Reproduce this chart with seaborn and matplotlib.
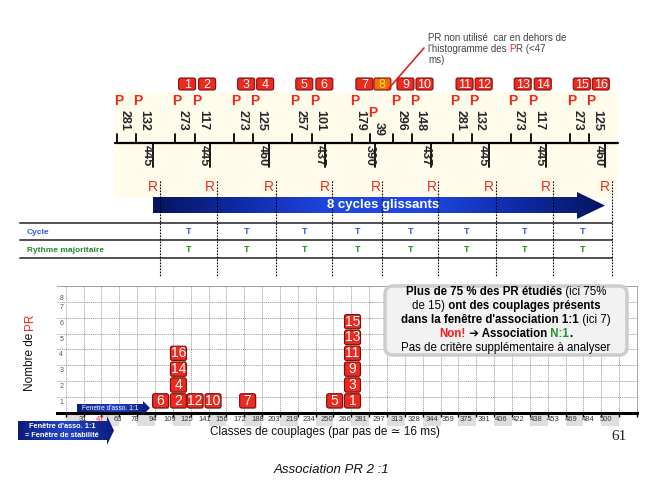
import numpy as np
import matplotlib
matplotlib.use("Agg")
import matplotlib.pyplot as plt
import matplotlib.patches as mpatches
from matplotlib.colors import LinearSegmentedColormap
from matplotlib.offsetbox import TextArea, HPacker, VPacker, AnnotationBbox
import seaborn as sns

sns.set_theme(style="white")
plt.rcParams["font.family"] = ["Liberation Sans", "DejaVu Sans"]

# ---- timeline data (ms) ----
rr_ms = [445, 445, 460, 437, 390, 437, 445, 445, 460]
pr_first = [281, 273, 273, 257, 179, 296, 281, 273, 273]
pr_second = [132, 117, 125, 101, 39, 148, 132, 117, 125]
pr_min_ms = 47
table_rows = ["Cycle", "Rythme majoritaire"]
table_values = ["T", "T", "T", "T", "T", "T", "T", "T"]

# ---- histogram data ----
class_ms = [101, 117, 132, 148, 179, 257, 273]
class_prs = [[6], [2, 4, 14, 16], [12], [10], [7], [5], [1, 3, 9, 11, 13, 15]]
class_labels = ["31", "47", "63", "78", "94", "109", "125", "141", "156", "172",
                "188", "203", "219", "234", "250", "266", "281", "297", "313",
                "328", "344", "359", "375", "391", "406", "422", "438", "453",
                "469", "484", "500"]
y_labels = ["1", "2", "3", "4", "5", "6", "7", "8"]

RED = "#f0281c"
BOX_RED = "#ec2a1d"
BOX_EDGE = "#7c1010"

fig = plt.figure(figsize=(6.64, 4.93), dpi=100)
fig.patch.set_facecolor("white")


def px_axes(label):
    a = fig.add_axes([0, 0, 1, 1], label=label)
    a.set_facecolor("none")
    a.axis("off")
    return a


bg = px_axes("bg")
tl = px_axes("timeline")

# timeline scale: first R at px 153, 0.1284 px per ms
K = 0.1284


def px2t(px):
    return (px - 153) / K


def dpx(px):
    return px / K


def gradient_poly(ax, verts, colors, z):
    poly = mpatches.Polygon(verts, closed=True, fc="none", ec="none")
    ax.add_patch(poly)
    xs = [v[0] for v in verts]
    ys = [v[1] for v in verts]
    cmap = LinearSegmentedColormap.from_list("g", colors)
    grad = np.linspace(0, 1, 256).reshape(1, -1)
    im = ax.imshow(grad, cmap=cmap, aspect="auto", zorder=z,
                   extent=(min(xs), max(xs), max(ys), min(ys)))
    im.set_clip_path(poly)


# ---------- background (pixel coords) ----------
bg.add_patch(mpatches.Rectangle((115, 92), 503, 106, fc="#fffcec", ec="none", zorder=0))
gradient_poly(bg, [(153, 197), (577, 197), (577, 192), (605, 205.5), (577, 219),
                   (577, 213), (153, 213)],
              ["#06145e", "#0f2ca8", "#1f48e2", "#1f48e2", "#0f2ca8", "#06145e"], 3)

for yy in [223, 240, 258]:
    bg.plot([20, 612], [yy, yy], color="#505050", lw=1.4, zorder=2)
bg.text(27, 232, table_rows[0], color="#2f55e0", fontsize=6, fontweight="bold", va="center")
bg.text(27, 250, table_rows[1], color="#1f8a2a", fontsize=6, fontweight="bold", va="center")

# callout text
bg.text(428, 38, "PR non utilisé  car en dehors de", fontsize=7, color="#444444", va="center")
line2 = HPacker(children=[TextArea("l'histogramme des ", textprops=dict(fontsize=7, color="#444444")),
                          TextArea("P", textprops=dict(fontsize=7, color=RED)),
                          TextArea("R (<47", textprops=dict(fontsize=7, color="#444444"))],
                align="baseline", pad=0, sep=0)
bg.add_artist(AnnotationBbox(line2, (428, 49), box_alignment=(0, 0.5), frameon=False, pad=0))
bg.text(428, 60, "ms)", fontsize=7, color="#444444", va="center")

# axis titles / footer
bg.text(30, 333, "Nombre de", rotation=90, fontsize=8.5, ha="center", va="top", color="#111111")
bg.text(30, 330, "PR", rotation=90, fontsize=8.5, ha="center", va="bottom", color=RED)
bg.text(325, 432, "Classes de couplages (par pas de ≃ 16 ms)", fontsize=8.5,
        ha="center", va="center", color="#111111")
bg.text(619, 437, "61", fontsize=11, family=["Liberation Serif", "DejaVu Serif"],
        ha="center", va="center", color="#222222")
bg.text(331, 470, "Association PR 2 :1", fontsize=9.5, fontstyle="italic",
        ha="center", va="center", color="#111111")

bg.set_xlim(0, 664)
bg.set_ylim(493, 0)

# ---------- timeline (x in ms, y in px) ----------
r_t = np.cumsum([0] + rr_ms[1:])
tl.plot([px2t(115), px2t(618)], [143, 143], color="black", lw=1.6, zorder=3)
box_w, box_h = dpx(17), 12
pr_no = 1
for i, t in enumerate(r_t):
    tl.plot([t, t], [143, 167], color="black", lw=1.3, zorder=3)
    tl.text(t - dpx(6), 145, str(rr_ms[i]), rotation=270, fontsize=9, fontweight="bold",
            ha="center", va="top", zorder=4)
    tl.text(t, 187, "R", color=RED, fontsize=10, ha="center", va="center", zorder=4)
    tl.plot([t + dpx(7), t + dpx(7)], [181, 276], color="black", lw=0.8,
            linestyle=(0, (1.5, 1.2)), zorder=5)
    for pr in (pr_first[i], pr_second[i]):
        p = t - pr
        low = 12 if pr < pr_min_ms else 0
        tl.plot([p, p], [134, 143], color="black", lw=1.3, zorder=3)
        tl.text(p + dpx(2), 101 + low, "P", color=RED, fontsize=10, fontweight="bold",
                ha="center", va="center", zorder=4)
        tl.text(p + dpx(8), 110 + low, str(pr), rotation=270, fontsize=9, fontweight="bold",
                ha="center", va="top", zorder=4)
        if i > 0:
            bx = p + dpx(12)
            excluded = pr < pr_min_ms
            tl.add_patch(mpatches.FancyBboxPatch(
                (bx - box_w / 2, 84 - box_h / 2), box_w, box_h,
                boxstyle="round,pad=0,rounding_size=%f" % dpx(2), mutation_aspect=K,
                fc="#f56a10" if excluded else BOX_RED, ec=BOX_EDGE, lw=0.8, zorder=4))
            tl.text(bx, 84.5, str(pr_no), color="#fff200" if excluded else "white",
                    fontsize=9, ha="center", va="center", zorder=5)
            if excluded:
                tl.plot([bx + dpx(5), px2t(424)], [90, 48], color="#e02020", lw=1.2, zorder=5)
            pr_no += 1

for i in range(len(r_t) - 1):
    mid = (r_t[i] + r_t[i + 1]) / 2 + dpx(7)
    tl.text(mid, 232, table_values[i], color="#2f55e0", fontsize=6.5, fontweight="bold",
            ha="center", va="center")
    tl.text(mid, 250, table_values[i], color="#1f8a2a", fontsize=6.5, fontweight="bold",
            ha="center", va="center")

tl.text(px2t(383), 205, "8 cycles glissants", color="white", fontsize=9.5,
        fontweight="bold", ha="center", va="center", zorder=7)

tl.set_xlim(px2t(0), px2t(664))
tl.set_ylim(493, 0)

# ---------- histogram ----------
hx = fig.add_axes([57 / 664, (493 - 412.7) / 493, 580 / 664, 126.7 / 493], label="hist")
hx.set_facecolor("none")
hx.set_xlim(8.2, 528)
hx.set_ylim(0, 8)
hx.set_xticks(np.arange(16, 529, 16))
hx.set_xticklabels([])
hx.set_yticks(np.arange(0, 9, 1))
hx.set_yticklabels([])
hx.grid(True, color="#9a9a9a", lw=0.6, linestyle=(0, (1.5, 1)))
hx.tick_params(axis="x", which="major", direction="out", length=3, width=1,
               color="black", bottom=True)
hx.tick_params(axis="y", length=0)
sns.despine(ax=hx, left=True, top=False, right=False)
hx.spines["bottom"].set_linewidth(2.2)
hx.spines["bottom"].set_color("black")
for s in ("top", "right"):
    hx.spines[s].set_color("#9a9a9a")
    hx.spines[s].set_linewidth(0.6)

minor_pos = [int(v) for v in class_labels]
hx.set_xticks(minor_pos, class_labels, minor=True)
hx.tick_params(axis="x", which="minor", length=0, pad=2.5, labelsize=5.5, labelcolor="#333333")
for t in hx.get_xticklabels(minor=True):
    if t.get_text() == str(pr_min_ms):
        t.set_color(RED)
for n in range(1, 33, 2):
    hx.add_patch(mpatches.Rectangle((16 * n, -0.105), 16, 0.095,
                                    transform=hx.get_xaxis_transform(), clip_on=False,
                                    fc="#dedede", ec="none", zorder=0))

for k, lab in enumerate(y_labels):
    yv = k + 1 - 0.35 if k < 7 else 7.2
    hx.text(0.004, yv, lab, transform=hx.get_yaxis_transform(), fontsize=5,
            color="#555555", ha="left", va="center")

bw, bh = 14.3, 0.9
for xc, prs in zip(class_ms, class_prs):
    for j, num in enumerate(prs):
        yc = j + 1 - 0.25
        hx.add_patch(mpatches.FancyBboxPatch(
            (xc - bw / 2 + 0.9, yc - bh / 2 - 0.07), bw, bh,
            boxstyle="round,pad=0,rounding_size=1.8", mutation_aspect=0.0705,
            fc="#9a9a9a", ec="none", zorder=3, alpha=0.6))
        hx.add_patch(mpatches.FancyBboxPatch(
            (xc - bw / 2, yc - bh / 2), bw, bh,
            boxstyle="round,pad=0,rounding_size=1.8", mutation_aspect=0.0705,
            fc=BOX_RED, ec=BOX_EDGE, lw=0.8, zorder=4))
        hx.text(xc, yc, str(num), color="white", fontsize=10, ha="center", va="center",
                zorder=5)

# ---------- foreground (pixel coords) ----------
fg = px_axes("fg")
gradient_poly(fg, [(77, 404), (143, 404), (143, 401), (150, 408), (143, 415), (143, 412),
                   (77, 412)], ["#0b1c7a", "#2446c8", "#0b1c7a"], 3)
fg.text(110, 408, "Fenetre d'asso. 1:1", color="white", fontsize=4.8, ha="center",
        va="center", zorder=4)
gradient_poly(fg, [(18, 421), (107, 421), (107, 416), (114, 430.5), (107, 445), (107, 440),
                   (18, 440)], ["#0b1c7a", "#2446c8", "#0b1c7a"], 3)
fg.text(62, 427, "Fenêtre d'asso. 1:1", color="white", fontsize=5.3, fontweight="bold",
        ha="center", va="center", zorder=4)
fg.text(62, 435.5, "= Fenêtre de stabilité", color="white", fontsize=5.3, fontweight="bold",
        ha="center", va="center", zorder=4)

fg.add_patch(mpatches.FancyBboxPatch((385, 286), 242, 69,
                                     boxstyle="round,pad=0,rounding_size=8",
                                     fc="#f2f2f2", ec="#cccccc", lw=2.5, zorder=2))
fs = 8.3
B = dict(fontsize=fs, fontweight="bold", color="black")
N = dict(fontsize=fs, color="black")
lines = [
    [("Plus de 75 % des PR étudiés", B), (" (ici 75%", N)],
    [("de 15)", N), (" ont des couplages présents", B)],
    [("dans la fenêtre d'association 1:1", B), (" (ici 7)", N)],
    [("Non!", dict(B, color="#ff1a1a")), (" ➔ Association", B),
     (" N:1", dict(B, color="#1f9a2a")), (".", B)],
    [("Pas de critère supplémentaire à analyser", N)],
]
rows = [HPacker(children=[TextArea(s, textprops=p) for s, p in ln], align="baseline",
                pad=0, sep=0) for ln in lines]
block = VPacker(children=rows, align="center", pad=0, sep=1.5)
ab = AnnotationBbox(block, (506, 320), box_alignment=(0.5, 0.5), frameon=False, pad=0)
ab.set_zorder(5)
fg.add_artist(ab)

fg.set_xlim(0, 664)
fg.set_ylim(493, 0)

fig.savefig("out.png", dpi=100)
